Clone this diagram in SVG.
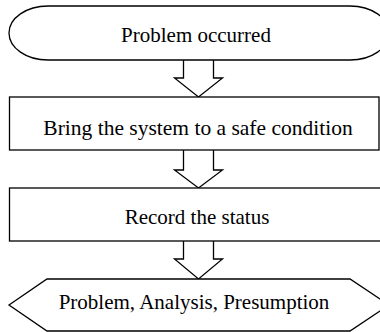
<svg xmlns="http://www.w3.org/2000/svg" width="380" height="332" viewBox="0 0 380 332">
  <style>
    .shape { fill: #ffffff; stroke: #000000; stroke-width: 1.3; }
    .arrow { fill: #ffffff; stroke: #000000; stroke-width: 1.3; stroke-linejoin: miter; }
    .label { font-family: "Liberation Serif", "Times New Roman", serif; font-size: 21px; fill: #000000; text-anchor: middle; }
  </style>
  <rect width="380" height="332" fill="#ffffff"/>
  <g id="connectors">
    <polyline class="arrow" points="183.5,60 183.5,78 174.5,78 198.5,97 222.5,78 213.5,78 213.5,60"/>
    <polyline class="arrow" points="183.5,150 183.5,170 174.5,170 198.5,188 222.5,170 213.5,170 213.5,150"/>
    <polyline class="arrow" points="183.5,241 183.5,259 174.5,259 198.5,279 222.5,259 213.5,259 213.5,241"/>
  </g>
  <g id="start">
    <path class="shape" d="M48,6 H350 A39,27 0 0 1 350,60 H48 A39,27 0 0 1 48,6 Z"/>
    <text class="label" x="196" y="42">Problem occurred</text>
  </g>
  <g id="safe">
    <rect class="shape" x="9.5" y="97" width="369.5" height="53"/>
    <text class="label" x="198" y="135" style="font-size:21.5px">Bring the system to a safe condition</text>
  </g>
  <g id="record">
    <rect class="shape" x="9.5" y="188" width="380" height="53"/>
    <text class="label" x="197" y="224">Record the status</text>
  </g>
  <g id="analysis">
    <polygon class="shape" points="9,305 47,279 350,279 389,305 350,331 47,331"/>
    <text class="label" x="194" y="309">Problem, Analysis, Presumption</text>
  </g>
</svg>
